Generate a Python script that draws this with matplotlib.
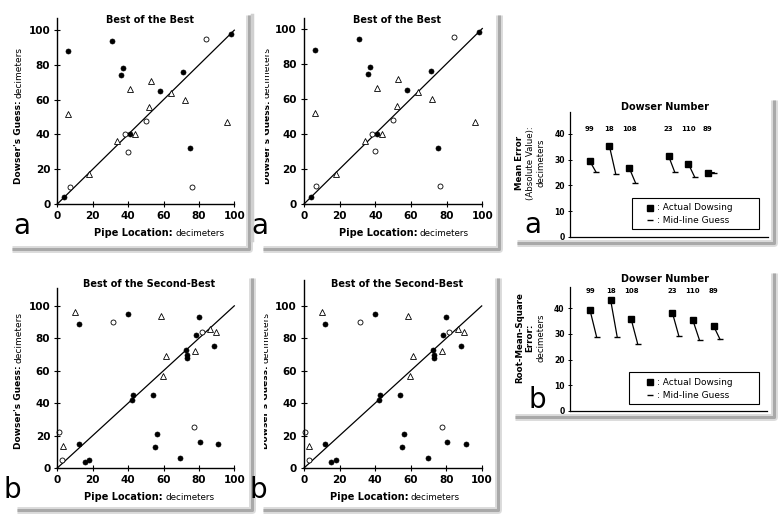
import matplotlib
matplotlib.use("Agg")
import matplotlib.pyplot as plt
from matplotlib.lines import Line2D
from matplotlib.patches import Rectangle
from matplotlib.transforms import Bbox

# ---------------- data ----------------
# Best of the Best (panel a scatter)
bb_filled_x = [4, 6, 31, 37, 36, 41, 58, 71, 75, 98]
bb_filled_y = [4, 88, 94, 78, 74, 40, 65, 76, 32, 98]
bb_circle_x = [7, 38, 40, 50, 84, 76]
bb_circle_y = [10, 40, 30, 48, 95, 10]
bb_tri_x = [6, 18, 34, 41, 44, 52, 53, 64, 72, 96]
bb_tri_y = [52, 17, 36, 66, 40, 56, 71, 64, 60, 47]

# Best of the Second-Best (panel b scatter)
sb_filled_x = [12, 40, 12, 15.4, 17.9, 42, 43, 54, 56.5, 55.4, 69.5, 72.5, 73.4, 73.4, 78.3, 79.8, 88.3, 80.6, 91]
sb_filled_y = [89, 95, 15, 3.9, 5.2, 42, 45, 45, 21, 13, 6, 73, 69.5, 67.8, 82, 93.4, 75, 16, 15]
sb_circle_x = [0.8, 2.6, 31.6, 77.4, 81.7]
sb_circle_y = [22, 5.2, 90, 25, 84]
sb_tri_x = [3, 10, 58.8, 61.6, 59.5, 77.6, 86.4, 89.8]
sb_tri_y = [13.4, 96, 93.8, 69.3, 56.5, 72.4, 85.8, 83.7]

identity = [0, 100]
xticks = [0, 20, 40, 60, 80, 100]

# Dowser summary panels
dowsers = ['99', '18', '108', '23', '110', '89']
dowser_pos = [1, 2, 3, 5, 6, 7]
mean_err_actual = [29.5, 35.3, 26.9, 31.5, 28.5, 24.9]
mean_err_guess = [25.2, 24.5, 21.1, 25.1, 23.4, 25.0]
rms_actual = [39.1, 43.1, 35.6, 38.2, 35.2, 33.1]
rms_guess = [28.7, 28.7, 25.9, 29.0, 27.5, 27.8]
err_ticks = [0, 10, 20, 30, 40]

# ---------------- figure ----------------
W, H = 778, 520
fig = plt.figure(figsize=(W / 100, H / 100), dpi=100)
fig.patch.set_facecolor('white')

BOLD = dict(family='DejaVu Sans', weight='bold', color='black')
REG = dict(family='DejaVu Sans', weight='normal', color='black')


def fx(x):
    return x / W


def fy(y):
    return 1 - y / H


def add_ax(l, t, r, b):
    return fig.add_axes([fx(l), fy(b), (r - l) / W, (b - t) / H])


def ftext(x, y, s, **kw):
    return fig.text(fx(x), fy(y), s, **kw)


def shadow(points):
    xs = [fx(p[0]) for p in points]
    ys = [fy(p[1]) for p in points]
    fig.add_artist(Line2D(xs, ys, transform=fig.transFigure, color='#dcdcdc', lw=5, solid_capstyle='butt'))
    fig.add_artist(Line2D(xs, ys, transform=fig.transFigure, color='#a9a9a9', lw=2.2, solid_capstyle='butt'))


# drop-shadow frames
shadow([(12, 249), (249, 249), (249, 15)])
shadow([(263, 249), (499, 249), (499, 15)])
shadow([(17, 510), (252, 510), (252, 278)])
shadow([(263, 510), (498, 510), (498, 278)])
shadow([(517, 243), (774, 243), (774, 100)])
shadow([(515, 417), (774, 417), (774, 273)])
# left edges of middle panels
fig.add_artist(Line2D([fx(252), fx(252)], [fy(15), fy(240)], transform=fig.transFigure, color='#d0d0d0', lw=2.5))


def scatter_panel(box, ymax, fx_, fy_, cx, cy, tx, ty, title, title_xy,
                  ylab_x, ylab_split, xlab_y, xlab_split, letter, letter_xy, clip_left=None):
    ax = add_ax(*box)
    ax.set_xlim(0, 100)
    ax.set_ylim(0, ymax)
    for s in ['top', 'right']:
        ax.spines[s].set_visible(False)
    for s in ['left', 'bottom']:
        ax.spines[s].set_linewidth(1.0)
    ax.spines['left'].set_bounds(0, ymax)
    ax.set_xticks(xticks)
    ax.set_yticks(xticks)
    ax.tick_params(direction='inout', length=4, width=0.8, pad=3)
    for lab in ax.get_xticklabels() + ax.get_yticklabels():
        lab.set_fontproperties(matplotlib.font_manager.FontProperties(family='DejaVu Sans', weight='bold', size=7.5))
    ax.plot(identity, identity, color='black', lw=0.9, clip_on=False)
    ax.plot(fx_, fy_, 'o', ms=3.6, mfc='black', mec='black', mew=0.5, ls='none', clip_on=False)
    ax.plot(cx, cy, 'o', ms=3.6, mfc='white', mec='black', mew=0.6, ls='none', clip_on=False)
    ax.plot(tx, ty, '^', ms=4.2, mfc='white', mec='black', mew=0.6, ls='none', clip_on=False)
    ax.patch.set_alpha(0)
    ftext(title_xy[0], title_xy[1], title, ha='center', va='center', size=7, **BOLD)
    t1 = ftext(ylab_x, ylab_split + 1, "Dowser's Guess:", rotation=90, ha='center', va='top', size=6.5, **BOLD)
    t2 = ftext(ylab_x, ylab_split - 1, "decimeters", rotation=90, ha='center', va='bottom', size=6.5, **REG)
    if clip_left is not None:
        bb = Bbox.from_extents(clip_left, 0, W, H)
        for t in (t1, t2):
            t.set_clip_box(bb)
            t.set_clip_on(True)
    ftext(xlab_split - 1, xlab_y, "Pipe Location:", ha='right', va='center', size=7, **BOLD)
    ftext(xlab_split + 1, xlab_y, "decimeters", ha='left', va='center', size=6.3, **REG)
    ftext(letter_xy[0], letter_xy[1], letter, ha='center', va='center', size=20,
          family='DejaVu Sans', color='black')
    return ax


scatter_panel((57.3, 18, 234.3, 204), 107, bb_filled_x, bb_filled_y, bb_circle_x, bb_circle_y,
              bb_tri_x, bb_tri_y, 'Best of the Best', (150, 20), 19, 99, 233, 174, 'a', (22, 226))
scatter_panel((304, 18, 482.3, 204), 106, bb_filled_x, bb_filled_y, bb_circle_x, bb_circle_y,
              bb_tri_x, bb_tri_y, 'Best of the Best', (397, 20), 267, 99, 233, 419, 'a', (260, 226),
              clip_left=265)
scatter_panel((57.3, 288, 234.3, 468), 111, sb_filled_x, sb_filled_y, sb_circle_x, sb_circle_y,
              sb_tri_x, sb_tri_y, 'Best of the Second-Best', (149, 284), 19, 364, 497, 164, 'b', (12, 490))
scatter_panel((304, 280, 481.7, 468), 116, sb_filled_x, sb_filled_y, sb_circle_x, sb_circle_y,
              sb_tri_x, sb_tri_y, 'Best of the Second-Best', (397, 284), 266, 364, 497, 410, 'b', (258, 490),
              clip_left=264)


def error_panel(box, xmax, ymax, actual, guess, label_y, title_y, ylines, center_y, letter, letter_xy, leg_box):
    ax = add_ax(*box)
    ax.set_xlim(0, xmax)
    ax.set_ylim(0, ymax)
    for s in ['top', 'right']:
        ax.spines[s].set_visible(False)
    ax.spines['left'].set_linewidth(0.9)
    ax.spines['bottom'].set_linewidth(0.9)
    ax.set_xticks([])
    ax.set_yticks(err_ticks)
    ax.tick_params(axis='y', direction='inout', length=3, width=0.7, pad=2)
    for lab in ax.get_yticklabels():
        lab.set_fontproperties(matplotlib.font_manager.FontProperties(family='DejaVu Sans', weight='bold', size=5.5))
    off = 0.32
    for p, a, g in zip(dowser_pos, actual, guess):
        ax.plot([p, p + off], [a, g], color='black', lw=0.9)
    ax.plot(dowser_pos, actual, 's', ms=4.2, color='black', ls='none')
    ax.plot([p + off for p in dowser_pos], guess, '_', ms=5, mew=1.0, color='black', ls='none')
    for p, d in zip(dowser_pos, dowsers):
        ax.text(p, label_y, d, ha='center', va='center', size=5, **BOLD)
    ax.patch.set_alpha(0)
    ftext(665, title_y, 'Dowser Number', ha='center', va='center', size=7, **BOLD)
    for (x, s, bold) in ylines:
        ftext(x, center_y, s, rotation=90, ha='center', va='center', size=6.2, **(BOLD if bold else REG))
    ftext(letter_xy[0], letter_xy[1], letter, ha='center', va='center', size=20,
          family='DejaVu Sans', color='black')
    # legend box
    l, t, r, b = leg_box
    fig.add_artist(Rectangle((fx(l), fy(b)), (r - l) / W, (b - t) / H, transform=fig.transFigure,
                             fill=False, ec='black', lw=0.8))
    ym1 = t + (b - t) * 0.32
    ym2 = t + (b - t) * 0.72
    fig.add_artist(Line2D([fx(650)], [fy(ym1)], transform=fig.transFigure, marker='s', ms=4.2, color='black'))
    fig.add_artist(Line2D([fx(650)], [fy(ym2)], transform=fig.transFigure, marker='_', ms=4, mew=1.0, color='black'))
    ftext(657, ym1, ': Actual Dowsing', ha='left', va='center', size=6.5, **REG)
    ftext(657, ym2, ': Mid-line Guess', ha='left', va='center', size=6.5, **REG)
    return ax


error_panel((570, 112, 768, 237), 10.05, 48.5, mean_err_actual, mean_err_guess, 42, 107,
            [(520, 'Mean Error', True), (530, '(Absolute Value):', False), (541, 'decimeters', False)],
            163, 'a', (533, 225), (632, 198, 759, 229))
error_panel((569.5, 287, 767, 411), 9.6, 48.2, rms_actual, rms_guess, 46.6, 279,
            [(520, 'Root-Mean-Square', True), (530, 'Error:', True), (541, 'decimeters', False)],
            338, 'b', (537, 400), (629, 372, 759, 404))

fig.savefig('out.png', dpi=100, facecolor='white')
